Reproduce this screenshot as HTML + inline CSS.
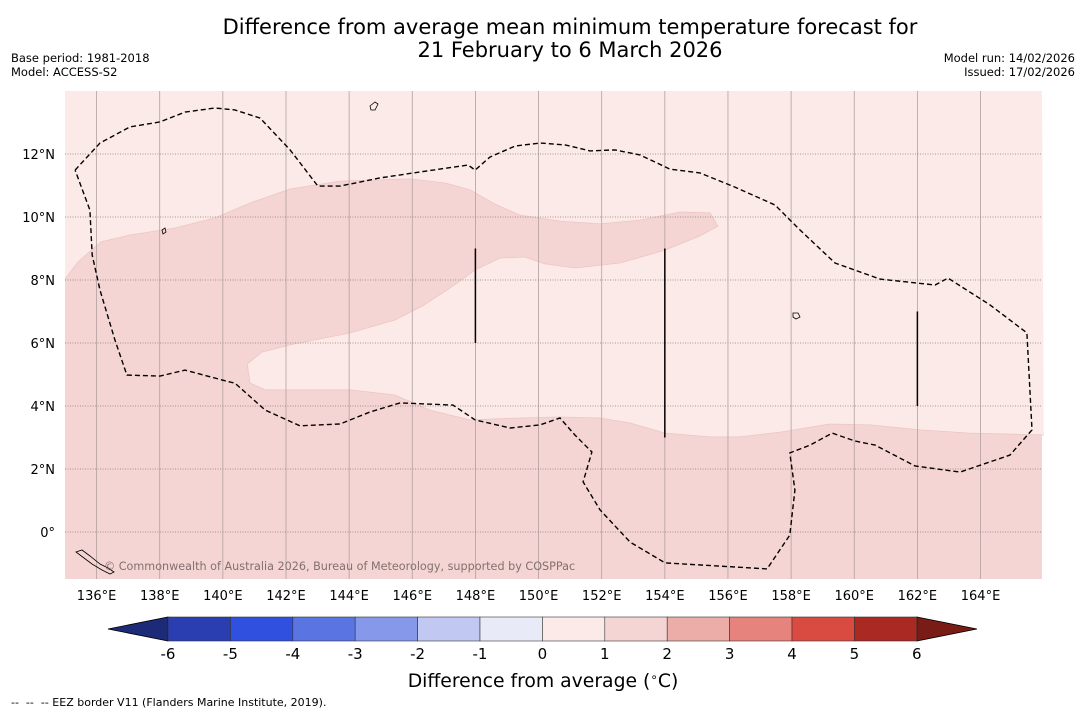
<!DOCTYPE html>
<html><head><meta charset="utf-8"><style>
body{margin:0;background:#fff;}
svg text{font-family:"DejaVu Sans","Liberation Sans",sans-serif;white-space:pre;}
</style></head><body>
<svg id="chart" width="1085" height="713" xmlns="http://www.w3.org/2000/svg">
<rect width="1085" height="713" fill="#fff"/>
<text x="570" y="34" font-size="21" text-anchor="middle">Difference from average mean minimum temperature forecast for</text>
<text x="570" y="57" font-size="21" text-anchor="middle">21 February to 6 March 2026</text>
<text x="11" y="62" font-size="11.5">Base period: 1981-2018</text>
<text x="11" y="76" font-size="11.5">Model: ACCESS-S2</text>
<text x="1075" y="62" font-size="11.5" text-anchor="end">Model run: 14/02/2026</text>
<text x="1075" y="76" font-size="11.5" text-anchor="end">Issued: 17/02/2026</text>
<g id="map"></g>
<g id="cbar"></g>
<text x="543" y="687" font-size="18.8" text-anchor="middle">Difference from average (<tspan font-size="12" dy="-6">∘</tspan><tspan dy="6">C)</tspan></text>
<text x="11" y="706" font-size="11" xml:space="preserve">--  --  -- EEZ border V11 (Flanders Marine Institute, 2019).</text>
</svg>
<script>
const lonTicks=[136,138,140,142,144,146,148,150,152,154,156,158,160,162,164];
const latTicks=[0,2,4,6,8,10,12];
const cbarLevels=[-6,-5,-4,-3,-2,-1,0,1,2,3,4,5,6];
const cbarColors=["#2a3eb1","#3050e0","#5a74e2","#8598ea","#c1c8f2","#e8eaf8","#fbeae8","#f5d5d3","#ecaca7","#e6837c","#d94a40","#aa2a23"];
const lowColor="#1c2a78", highColor="#7a1c16";
// contour boundary (lon,lat) of 0-1 class region
const lightLon=[135.00,135.41,136.14,137.06,138.48,139.75,140.86,142.13,143.71,145.93,147.04,147.83,148.62,149.41,150.68,151.95,153.21,154.48,155.43,155.68,155.11,154.01,152.58,151.15,150.20,149.57,148.78,147.99,147.20,146.31,145.45,144.03,142.13,141.24,140.77,140.86,141.34,142.44,144.03,145.45,146.56,147.83,149.41,150.68,151.95,152.90,154.01,155.43,156.38,157.65,159.23,160.50,162.08,163.67,166.0];
const lightLat=[8.03,8.57,9.21,9.43,9.65,9.97,10.44,10.89,11.14,11.21,11.08,10.86,10.41,10.06,9.87,9.78,9.90,10.16,10.13,9.71,9.40,8.95,8.54,8.38,8.51,8.73,8.70,8.32,7.75,7.17,6.73,6.32,5.94,5.71,5.33,4.73,4.51,4.51,4.51,4.35,3.87,3.56,3.62,3.65,3.62,3.46,3.14,3.02,3.02,3.17,3.43,3.40,3.24,3.14,3.08];
// EEZ border (lon,lat)
const eezLon=[135.32,136.11,137.06,138.01,138.80,139.75,140.38,141.18,142.13,143.01,143.71,144.98,146.24,147.77,147.99,148.46,149.25,150.05,150.84,151.63,152.42,153.21,154.16,155.11,156.22,157.49,158.28,159.39,160.82,162.56,162.97,164.30,165.47,165.63,164.93,163.35,161.92,160.66,160.02,159.30,158.60,157.96,158.12,157.96,157.24,154.01,152.90,151.95,151.41,151.69,151.15,150.68,150.05,149.10,147.99,147.29,145.61,144.66,143.71,142.44,141.34,140.38,140.23,138.80,138.01,136.96,136.58,136.11,135.86,135.79,135.32];
const eezLat=[11.49,12.35,12.86,13.02,13.33,13.46,13.40,13.14,12.13,10.98,10.98,11.24,11.43,11.65,11.49,11.90,12.25,12.35,12.29,12.10,12.13,11.97,11.52,11.40,10.95,10.38,9.59,8.54,8.03,7.84,8.06,7.21,6.32,3.24,2.44,1.90,2.10,2.76,2.89,3.14,2.76,2.51,1.33,-0.10,-1.17,-0.98,-0.32,0.70,1.59,2.54,3.08,3.62,3.40,3.30,3.56,4.03,4.10,3.81,3.43,3.37,3.87,4.73,4.76,5.14,4.95,4.98,6.10,7.68,8.79,10.22,11.49];
const segLon=[148,154,162], segLat1=[9,9,7], segLat2=[6,3,4];
const X=lon=>65+(lon-135)*31.57, Y=lat=>91+(14-lat)*31.5;
const NS="http://www.w3.org/2000/svg";
function mk(tag,attrs,parent){const e=document.createElementNS(NS,tag);for(const k in attrs)e.setAttribute(k,attrs[k]);parent.appendChild(e);return e;}
const map=document.getElementById('map');
let r=mk('rect',{x:65,y:91,width:977,height:488,fill:"#f5d5d3"},map);


let pts="65,91 "+lightLon.map((l,i)=>X(l).toFixed(1)+","+Y(lightLat[i]).toFixed(1)).join(" ")+" 1042,91";
let lp=mk('polygon',{points:pts,fill:"#fbeae8"},map);


let cl=mk('polyline',{points:lightLon.map((l,i)=>X(l).toFixed(1)+","+Y(lightLat[i]).toFixed(1)).join(" "),fill:"none",stroke:"#ecc6c3","stroke-width":0.8},map);


lonTicks.forEach(l=>{
 const g=mk('line',{x1:X(l),x2:X(l),y1:91,y2:579,stroke:"#b0a0a0","stroke-width":0.8},map);
 
 
 const t=mk('text',{x:X(l),y:600,"font-size":13,"text-anchor":"middle"},map);t.textContent=l+"°E";
 
 
});
latTicks.forEach(l=>{
 const g=mk('line',{x1:65,x2:1042,y1:Y(l),y2:Y(l),stroke:"#8a7a7a","stroke-width":0.8,"stroke-dasharray":"1,1.5"},map);
 
 
 const t=mk('text',{x:55,y:Y(l)+5,"font-size":13,"text-anchor":"end"},map);t.textContent=l===0?"0°":l+"°N";
 
 
});
let e=mk('polyline',{points:eezLon.map((l,i)=>X(l).toFixed(1)+","+Y(eezLat[i]).toFixed(1)).join(" "),fill:"none",stroke:"#000","stroke-width":1.4,"stroke-dasharray":"5,3"},map);


segLon.forEach((l,i)=>{
 const s=mk('line',{x1:X(l),x2:X(l),y1:Y(segLat1[i]),y2:Y(segLat2[i]),stroke:"#000","stroke-width":1.5},map);
 
 
});
let isl=mk('path',{d:"M76,552 l6,-2 l8,6 l10,8 l8,4 l6,4 l-4,2 l-8,-4 l-10,-6 l-8,-6 z M370,106 l5,-4 l3,2 l-3,6 l-4,0 z M793,313 l5,0 l2,4 l-4,2 l-3,-2 z M162,230 l3,-2 l1,4 l-3,2 z",fill:"none",stroke:"#000","stroke-width":0.8},map);


let cp=mk('text',{x:104,y:570,"font-size":11.2,fill:"#807070"},map);cp.textContent="© Commonwealth of Australia 2026, Bureau of Meteorology, supported by COSPPac";


const cb=document.getElementById('cbar');
const CX=v=>168+(v+6)*62.4, cy0=617, cy1=641;
let lt=mk('polygon',{points:`${CX(-6)},${cy0} ${CX(-6)},${cy1} 108,629`,fill:lowColor,stroke:"#000","stroke-width":0.8},cb);


let ht=mk('polygon',{points:`${CX(6)},${cy0} ${CX(6)},${cy1} 977,629`,fill:highColor,stroke:"#000","stroke-width":0.8},cb);


cbarColors.forEach((c,i)=>{
 const b=mk('rect',{x:CX(cbarLevels[i]),y:cy0,width:CX(cbarLevels[i+1])-CX(cbarLevels[i]),height:cy1-cy0,fill:c,stroke:"#333","stroke-width":0.6},cb);
 
 
});
cbarLevels.forEach(v=>{
 const t=mk('text',{x:CX(v),y:659,"font-size":15,"text-anchor":"middle"},cb);t.textContent=v;
 
 
});
</script>
</body></html>
